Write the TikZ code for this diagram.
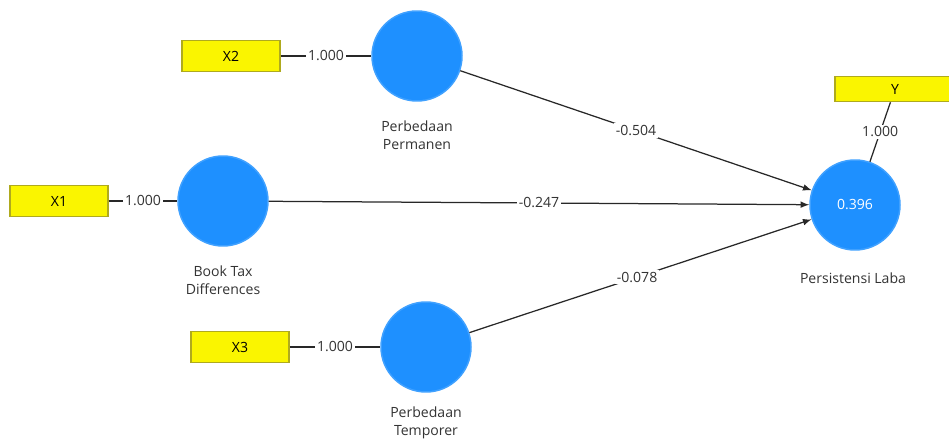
\documentclass[tikz,border=0pt]{standalone}
\usepackage{fontspec}
\setmainfont{Open Sans}
\usepackage{tikz}
\usetikzlibrary{arrows}
\definecolor{lvblue}{RGB}{30,144,255}
\definecolor{mvyellow}{RGB}{250,245,0}
\definecolor{mvborder}{RGB}{175,170,30}
\definecolor{pathgray}{RGB}{40,40,40}
\tikzstyle{Latent}=[minimum size=1.8cm, inner sep=0pt, fill=lvblue, draw=lvblue!85!white, line width = 0.3mm, shape=circle, text=white]
\tikzstyle{Indicator}=[minimum width=1.96cm, minimum height=0.62cm, inner sep=0pt, fill=mvyellow, draw=mvborder, line width = 0.3mm, shape=rectangle, text=black]
\tikzstyle{Caption}=[align=center, text=black!80, inner sep=0pt]
\tikzstyle{Coef}=[fill=white, inner sep=1.2pt, text=black!80]
\tikzstyle{arrow}=[line width = 0.25mm, draw=pathgray]
\pgfdeclarelayer{nodelayer}
\pgfdeclarelayer{edgelayer}
\pgfsetlayers{nodelayer, edgelayer, main}

\begin{document}
\begin{tikzpicture}[x=0.02cm, y=-0.02cm, font=\fontsize{8}{10.2}\selectfont]
	\useasboundingbox (0,0) rectangle (949,445);
	\begin{pgfonlayer}{nodelayer}
		\node [style=Latent] (permanen) at (417, 56) {};
		\node [style=Latent] (btd) at (223, 201) {};
		\node [style=Latent] (temporer) at (426, 347) {};
		\node [style=Latent] (laba) at (855, 205) {0.396};
		\node [style=Indicator] (x2) at (231, 56) {X2};
		\node [style=Indicator] (x1) at (59, 201) {X1};
		\node [style=Indicator] (x3) at (240, 347) {X3};
		\node [style=Indicator, minimum width=2.4cm, minimum height=0.5cm] (y) at (895, 89) {Y};
		\node [style=Caption] (permanenlabel) at (417, 135) {Perbedaan\\Permanen};
		\node [style=Caption] (btdlabel) at (223, 280) {Book Tax\\Differences};
		\node [style=Caption] (temporerlabel) at (426, 423) {Perbedaan\\Temporer};
		\node [style=Caption] (labalabel) at (853, 278) {Persistensi Laba};
	\end{pgfonlayer}
	\begin{pgfonlayer}{edgelayer}
		\draw [style=arrow] (x2) to node[style=Coef] {1.000} (permanen);
		\draw [style=arrow] (x1) to node[style=Coef] {1.000} (btd);
		\draw [style=arrow] (x3) to node[style=Coef] {1.000} (temporer);
		\draw [style=arrow] (y) to node[style=Coef] {1.000} (laba);

		% % inner model
		\draw [-latex, style=arrow] (permanen) to node[style=Coef, pos=0.5] {-0.504} (laba);
		\draw [-latex, style=arrow] (btd) to node[style=Coef, pos=0.5] {-0.247} (laba);
		\draw [-latex, style=arrow] (temporer) to node[style=Coef, pos=0.49] {-0.078} (laba);
	\end{pgfonlayer}
\end{tikzpicture}
\end{document}
